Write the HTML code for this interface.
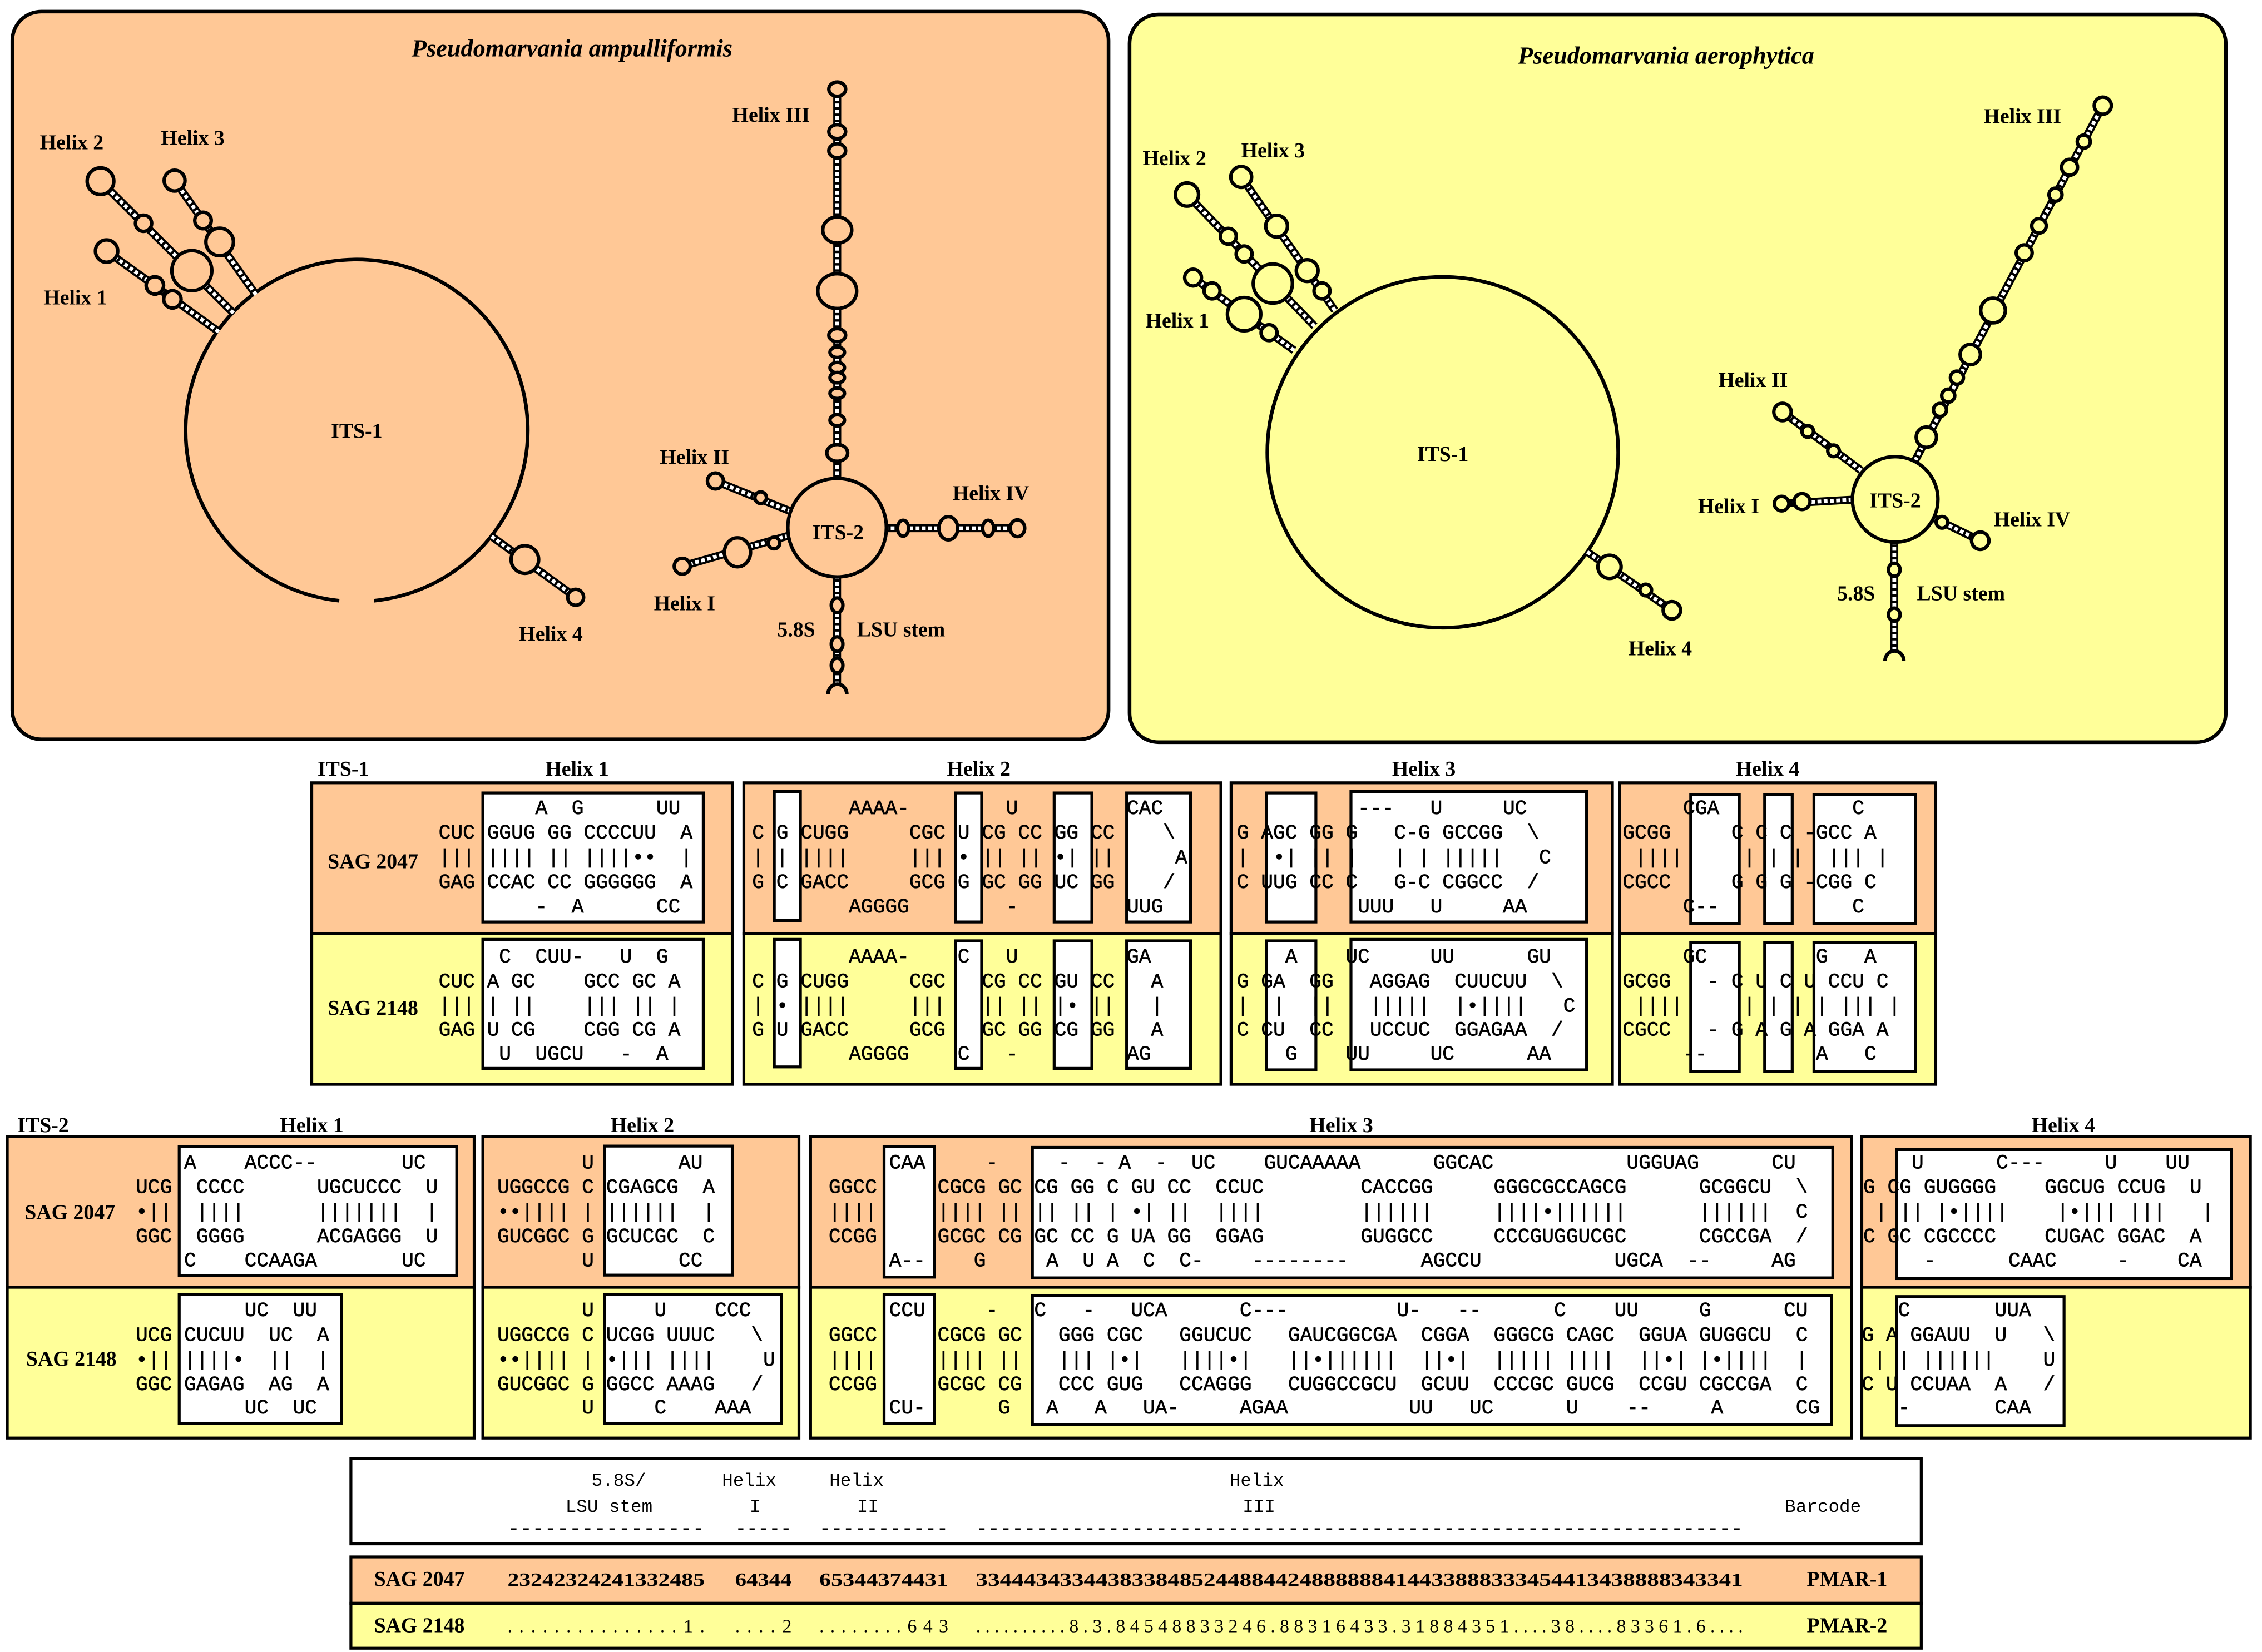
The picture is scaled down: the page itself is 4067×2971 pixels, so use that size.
<!DOCTYPE html>
<html><head><meta charset="utf-8">
<style>
html,body{margin:0;padding:0;background:#fff}
svg{display:block}
.m{font-family:"Liberation Mono",monospace;font-size:13.9px;white-space:pre;fill:#000;stroke:#000;stroke-width:0.25}
.h{font-family:"Liberation Mono",monospace;font-size:12.5px;white-space:pre;fill:#000}
.b{font-family:"Liberation Serif",serif;font-weight:bold;font-size:14.5px;fill:#000}
.t{font-family:"Liberation Serif",serif;font-weight:bold;font-style:italic;font-size:17px;fill:#000}
.hb{stroke:#000;stroke-width:5.5;fill:none}
.hw{stroke:#fff;stroke-width:2.6;stroke-dasharray:2.6 1.7;fill:none}
.lp circle,.lp ellipse{stroke:#000;stroke-width:2.4}
.p1 circle,.p1 ellipse{fill:#FFC896}
.p2 circle,.p2 ellipse{fill:#FFFF99}
.cell{stroke:#000;stroke-width:2}
.wb{fill:#fff;stroke:#000;stroke-width:2}
</style></head><body>
<svg width="4067" height="2971" viewBox="0 0 1560 1139.6" preserveAspectRatio="none" xmlns="http://www.w3.org/2000/svg">
<rect x="0" y="0" width="1560" height="1139.6" fill="#fff"/>

<!-- PANEL 1 -->
<rect x="8.5" y="8" width="756" height="502" rx="20" fill="#FFC896" stroke="#000" stroke-width="2.5"/>
<text class="t" x="394.5" y="39" text-anchor="middle">Pseudomarvania ampulliformis</text>
<path d="M234,414.4 A118,118 0 1 1 258,414.4" fill="none" stroke="#000" stroke-width="2.5"/>
<g class="lp p1">
<line class="hb" x1="150.9" y1="228.9" x2="73.5" y2="173.2"/><line class="hw" x1="150.9" y1="228.9" x2="73.5" y2="173.2"/>
<line class="hb" x1="161" y1="216" x2="69.3" y2="125"/><line class="hw" x1="161" y1="216" x2="69.3" y2="125"/>
<line class="hb" x1="176.5" y1="203.3" x2="120.4" y2="124.6"/><line class="hw" x1="176.5" y1="203.3" x2="120.4" y2="124.6"/>
<line class="hb" x1="339" y1="370" x2="397" y2="412"/><line class="hw" x1="339" y1="370" x2="397" y2="412"/>
<circle cx="73.5" cy="173.2" r="7.7"/><circle cx="106.8" cy="196.9" r="6"/><circle cx="118.9" cy="206.5" r="6"/>
<circle cx="69.3" cy="125" r="9.2"/><circle cx="99" cy="154" r="5.6"/><circle cx="132.3" cy="186.7" r="13.8"/>
<circle cx="120.4" cy="124.6" r="7.2"/><circle cx="140" cy="152.1" r="5.7"/><circle cx="151.5" cy="166.9" r="9.5"/>
<circle cx="362" cy="386" r="9.5"/><circle cx="397" cy="412" r="5.5"/>
<line class="hb" x1="577.4" y1="332" x2="577.4" y2="61.5"/><line class="hw" x1="577.4" y1="332" x2="577.4" y2="61.5"/>
<line class="hb" x1="610" y1="364.4" x2="701.7" y2="364.4"/><line class="hw" x1="610" y1="364.4" x2="701.7" y2="364.4"/>
<line class="hb" x1="545.7" y1="352.9" x2="493.4" y2="331.8"/><line class="hw" x1="545.7" y1="352.9" x2="493.4" y2="331.8"/>
<line class="hb" x1="543.9" y1="369.5" x2="470.5" y2="390.6"/><line class="hw" x1="543.9" y1="369.5" x2="470.5" y2="390.6"/>
<line class="hb" x1="577.3" y1="397" x2="577.3" y2="472"/><line class="hw" x1="577.3" y1="397" x2="577.3" y2="472"/>
<circle cx="577.3" cy="364" r="34"/>
<ellipse cx="577.4" cy="61.5" rx="5.8" ry="4.9"/><ellipse cx="577.4" cy="90.8" rx="5.8" ry="4.8"/><ellipse cx="577.4" cy="104" rx="5.8" ry="4.8"/>
<ellipse cx="577.4" cy="158.7" rx="10" ry="9"/><ellipse cx="577.4" cy="200.8" rx="13.4" ry="12"/>
<ellipse cx="577.4" cy="231.2" rx="5.8" ry="4.5"/><ellipse cx="577.4" cy="243" rx="5" ry="3.6"/><ellipse cx="577.4" cy="253.6" rx="5" ry="3.6"/>
<ellipse cx="577.4" cy="260.5" rx="5" ry="3.6"/><ellipse cx="577.4" cy="271.3" rx="5" ry="3.6"/><ellipse cx="577.4" cy="289.9" rx="5" ry="3.8"/>
<ellipse cx="577.4" cy="312.4" rx="7.2" ry="5.8"/>
<ellipse cx="622.8" cy="364.4" rx="3.8" ry="5.5"/><ellipse cx="654" cy="364.4" rx="6.5" ry="8"/><ellipse cx="681.5" cy="364.4" rx="3.8" ry="5.5"/><ellipse cx="701.7" cy="364.4" rx="5" ry="5.8"/>
<circle cx="524.6" cy="343.3" r="4"/><circle cx="493.4" cy="331.8" r="5.5"/>
<circle cx="533.8" cy="374.6" r="4"/><ellipse cx="508.6" cy="381" rx="9" ry="10"/><circle cx="470.5" cy="390.6" r="5.5"/>
<ellipse cx="577.3" cy="417.5" rx="4" ry="5"/><ellipse cx="577.3" cy="444.3" rx="4" ry="5"/><ellipse cx="577.3" cy="459" rx="4" ry="5"/>
</g>
<path d="M571,479 A6.5,7 0 0 1 584,479" fill="none" stroke="#000" stroke-width="2.5"/>
<text class="b" x="246" y="302" text-anchor="middle">ITS-1</text>
<text class="b" x="30" y="210">Helix 1</text>
<text class="b" x="27.5" y="103">Helix 2</text>
<text class="b" x="111" y="100">Helix 3</text>
<text class="b" x="358" y="442">Helix 4</text>
<text class="b" x="578" y="372" text-anchor="middle">ITS-2</text>
<text class="b" x="505" y="84">Helix III</text>
<text class="b" x="455" y="320">Helix II</text>
<text class="b" x="657" y="345">Helix IV</text>
<text class="b" x="451" y="421">Helix I</text>
<text class="b" x="536" y="439">5.8S</text>
<text class="b" x="591" y="439">LSU stem</text>

<!-- PANEL 2 -->
<rect x="779" y="10" width="756" height="502" rx="20" fill="#FFFF99" stroke="#000" stroke-width="2.5"/>
<text class="t" x="1149" y="44" text-anchor="middle">Pseudomarvania aerophytica</text>
<circle cx="995" cy="312" r="121" fill="none" stroke="#000" stroke-width="2.5"/>
<g class="lp p2">
<line class="hb" x1="892.5" y1="241.7" x2="822.8" y2="191.5"/><line class="hw" x1="892.5" y1="241.7" x2="822.8" y2="191.5"/>
<line class="hb" x1="906.6" y1="225" x2="818.6" y2="134.2"/><line class="hw" x1="906.6" y1="225" x2="818.6" y2="134.2"/>
<line class="hb" x1="920.6" y1="214.2" x2="856" y2="122.1"/><line class="hw" x1="920.6" y1="214.2" x2="856" y2="122.1"/>
<line class="hb" x1="1094.6" y1="380.7" x2="1153" y2="421"/><line class="hw" x1="1094.6" y1="380.7" x2="1153" y2="421"/>
<circle cx="875.2" cy="229.5" r="5.5"/><circle cx="858" cy="216.7" r="11.5"/><circle cx="835.9" cy="200.7" r="5.5"/><circle cx="822.8" cy="191.5" r="5.8"/>
<circle cx="877.8" cy="195.6" r="13.5"/><circle cx="858" cy="175.2" r="5.5"/><circle cx="847.1" cy="163" r="5.5"/><circle cx="818.6" cy="134.2" r="8"/>
<circle cx="911.7" cy="200.7" r="5.5"/><circle cx="901.5" cy="186.7" r="7.5"/><circle cx="880.4" cy="156" r="7.5"/><circle cx="856" cy="122.1" r="7.2"/>
<circle cx="1110" cy="391" r="8"/><circle cx="1135" cy="407" r="4"/><circle cx="1153" cy="421" r="6"/>
<line class="hb" x1="1320.7" y1="317.8" x2="1450.2" y2="72.9"/><line class="hw" x1="1320.7" y1="317.8" x2="1450.2" y2="72.9"/>
<line class="hb" x1="1283.5" y1="324.5" x2="1229.3" y2="284.2"/><line class="hw" x1="1283.5" y1="324.5" x2="1229.3" y2="284.2"/>
<line class="hb" x1="1277.5" y1="344.7" x2="1228.7" y2="347.4"/><line class="hw" x1="1277.5" y1="344.7" x2="1228.7" y2="347.4"/>
<line class="hb" x1="1332.4" y1="356.8" x2="1365.7" y2="373"/><line class="hw" x1="1332.4" y1="356.8" x2="1365.7" y2="373"/>
<line class="hb" x1="1306.4" y1="373" x2="1306.4" y2="449"/><line class="hw" x1="1306.4" y1="373" x2="1306.4" y2="449"/>
<circle cx="1307" cy="344.5" r="29.5"/>
<circle cx="1450.2" cy="72.9" r="5.9"/><circle cx="1437.1" cy="97.7" r="4.5"/><circle cx="1427.3" cy="115.4" r="5.5"/><circle cx="1417.6" cy="134.3" r="4.5"/>
<circle cx="1406.2" cy="155.8" r="5"/><circle cx="1396" cy="174.4" r="5.5"/><circle cx="1374.5" cy="214.2" r="8.5"/><circle cx="1358.8" cy="244.6" r="7"/>
<circle cx="1349.6" cy="260.5" r="4.5"/><circle cx="1343.6" cy="272.9" r="4.5"/><circle cx="1337.9" cy="282.8" r="4.5"/><circle cx="1328.5" cy="301.6" r="7"/>
<circle cx="1264.5" cy="311" r="4"/><circle cx="1246.7" cy="297.6" r="4"/><circle cx="1229.3" cy="284.2" r="6"/>
<circle cx="1242.8" cy="346" r="5.5"/><circle cx="1228.7" cy="347.4" r="5"/>
<circle cx="1339.3" cy="360.3" r="4"/><circle cx="1365.7" cy="373" r="6"/>
<ellipse cx="1306.4" cy="393" rx="4" ry="4.5"/><ellipse cx="1306.4" cy="424" rx="4" ry="4.5"/>
</g>
<path d="M1300,456 A6.5,7 0 0 1 1313,456" fill="none" stroke="#000" stroke-width="2.5"/>
<text class="b" x="995" y="318" text-anchor="middle">ITS-1</text>
<text class="b" x="790" y="226">Helix 1</text>
<text class="b" x="788" y="114">Helix 2</text>
<text class="b" x="856" y="108.5">Helix 3</text>
<text class="b" x="1123" y="452">Helix 4</text>
<text class="b" x="1307" y="350" text-anchor="middle">ITS-2</text>
<text class="b" x="1368" y="85">Helix III</text>
<text class="b" x="1185" y="267">Helix II</text>
<text class="b" x="1171" y="354">Helix I</text>
<text class="b" x="1375" y="363">Helix IV</text>
<text class="b" x="1267" y="414">5.8S</text>
<text class="b" x="1322" y="414">LSU stem</text>

<!-- ITS-1 TABLE -->
<text class="b" x="219" y="535" font-size="14">ITS-1</text>
<text class="b" x="398" y="535" text-anchor="middle">Helix 1</text>
<text class="b" x="675" y="535" text-anchor="middle">Helix 2</text>
<text class="b" x="982" y="535" text-anchor="middle">Helix 3</text>
<text class="b" x="1219" y="535" text-anchor="middle">Helix 4</text>

<rect class="cell" x="215" y="540" width="290" height="104" fill="#FFC896"/>
<rect class="cell" x="215" y="644" width="290" height="104" fill="#FFFF99"/>
<rect class="cell" x="513" y="540" width="329" height="104" fill="#FFC896"/>
<rect class="cell" x="513" y="644" width="329" height="104" fill="#FFFF99"/>
<rect class="cell" x="849" y="540" width="263" height="104" fill="#FFC896"/>
<rect class="cell" x="849" y="644" width="263" height="104" fill="#FFFF99"/>
<rect class="cell" x="1117" y="540" width="218" height="104" fill="#FFC896"/>
<rect class="cell" x="1117" y="644" width="218" height="104" fill="#FFFF99"/>

<text class="b" x="226" y="599" font-size="14">SAG 2047</text>
<text class="b" x="226" y="700" font-size="14">SAG 2148</text>

<rect class="wb" x="333" y="547" width="152" height="89"/>
<rect class="wb" x="333" y="648" width="152" height="89"/>
<text class="m" x="302.5" y="561.5">        A  G      UU</text>
<text class="m" x="302.5" y="578.5">CUC GGUG GG CCCCUU  A</text>
<text class="m" x="302.5" y="595.5">||| |||| || ||||••  |</text>
<text class="m" x="302.5" y="612.5">GAG CCAC CC GGGGGG  A</text>
<text class="m" x="302.5" y="629.5">        -  A      CC</text>
<text class="m" x="302.5" y="664">     C  CUU-   U  G</text>
<text class="m" x="302.5" y="681">CUC A GC    GCC GC A</text>
<text class="m" x="302.5" y="698">||| | ||    ||| || |</text>
<text class="m" x="302.5" y="714.5">GAG U CG    CGG CG A</text>
<text class="m" x="302.5" y="731">     U  UGCU   -  A</text>

<rect class="wb" x="534" y="546" width="18" height="89"/>
<rect class="wb" x="659" y="547" width="18" height="89"/>
<rect class="wb" x="727" y="547" width="26" height="89"/>
<rect class="wb" x="777" y="547" width="44" height="89"/>
<rect class="wb" x="534" y="648" width="18" height="88"/>
<rect class="wb" x="659" y="649" width="18" height="88"/>
<rect class="wb" x="727" y="649" width="26" height="88"/>
<rect class="wb" x="777" y="649" width="44" height="88"/>
<text class="m" x="518.7" y="561.5">        AAAA-        U         CAC</text>
<text class="m" x="518.7" y="578.5">C G CUGG     CGC U CG CC GG CC    \</text>
<text class="m" x="518.7" y="595.5">| | ||||     ||| • || || •| ||     A</text>
<text class="m" x="518.7" y="612.5">G C GACC     GCG G GC GG UC GG    /</text>
<text class="m" x="518.7" y="629.5">        AGGGG        -         UUG</text>
<text class="m" x="518.7" y="664">        AAAA-    C   U         GA</text>
<text class="m" x="518.7" y="681">C G CUGG     CGC   CG CC GU CC   A</text>
<text class="m" x="518.7" y="698">| • ||||     |||   || || |• ||   |</text>
<text class="m" x="518.7" y="714.5">G U GACC     GCG   GC GG CG GG   A</text>
<text class="m" x="518.7" y="731">        AGGGG    C   -         AG</text>

<rect class="wb" x="873.5" y="547" width="34" height="89"/>
<rect class="wb" x="931.7" y="546" width="162.5" height="90"/>
<rect class="wb" x="873.5" y="649" width="34" height="89"/>
<rect class="wb" x="931.7" y="648" width="162.5" height="90"/>
<text class="m" x="853" y="561.5">          ---   U     UC</text>
<text class="m" x="853" y="578.5">G AGC GG G   C-G GCCGG  \</text>
<text class="m" x="853" y="595.5">| |•| || |   | | |||||   C</text>
<text class="m" x="853" y="612.5">C UUG CC C   G-C CGGCC  /</text>
<text class="m" x="853" y="629.5">          UUU   U     AA</text>
<text class="m" x="853" y="664">    A    UC     UU      GU</text>
<text class="m" x="853" y="681">G GA  GG   AGGAG  CUUCUU  \</text>
<text class="m" x="853" y="698">| ||  ||   |||||  |•||||   C</text>
<text class="m" x="853" y="714.5">C CU  CC   UCCUC  GGAGAA  /</text>
<text class="m" x="853" y="731">    G    UU     UC      AA</text>

<rect class="wb" x="1166" y="548" width="33.5" height="89"/>
<rect class="wb" x="1217" y="548" width="19" height="89"/>
<rect class="wb" x="1251" y="548" width="70" height="89"/>
<rect class="wb" x="1166" y="650" width="33.5" height="89"/>
<rect class="wb" x="1217" y="650" width="19" height="89"/>
<rect class="wb" x="1251" y="650" width="70" height="89"/>
<text class="m" x="1119" y="561.5">     CGA           C</text>
<text class="m" x="1119" y="578.5">GCGG     C C C -GCC A</text>
<text class="m" x="1119" y="595.5"> ||||     | | |  ||| |</text>
<text class="m" x="1119" y="612.5">CGCC     G G G -CGG C</text>
<text class="m" x="1119" y="629.5">     C--           C</text>
<text class="m" x="1119" y="664">     GC         G   A</text>
<text class="m" x="1119" y="681">GCGG   - C U C U CCU C</text>
<text class="m" x="1119" y="698"> ||||     | | | | ||| |</text>
<text class="m" x="1119" y="714.5">CGCC   - G A G A GGA A</text>
<text class="m" x="1119" y="731">     --         A   C</text>

<!-- ITS-2 TABLE -->
<text class="b" x="12" y="781" font-size="14">ITS-2</text>
<text class="b" x="215" y="781" text-anchor="middle">Helix 1</text>
<text class="b" x="443" y="781" text-anchor="middle">Helix 2</text>
<text class="b" x="925" y="781" text-anchor="middle">Helix 3</text>
<text class="b" x="1423" y="781" text-anchor="middle">Helix 4</text>

<rect class="cell" x="5" y="784" width="322" height="104" fill="#FFC896"/>
<rect class="cell" x="5" y="888" width="322" height="104" fill="#FFFF99"/>
<rect class="cell" x="333" y="784" width="218" height="104" fill="#FFC896"/>
<rect class="cell" x="333" y="888" width="218" height="104" fill="#FFFF99"/>
<rect class="cell" x="559" y="784" width="718" height="104" fill="#FFC896"/>
<rect class="cell" x="559" y="888" width="718" height="104" fill="#FFFF99"/>
<rect class="cell" x="1284" y="784" width="268" height="104" fill="#FFC896"/>
<rect class="cell" x="1284" y="888" width="268" height="104" fill="#FFFF99"/>

<text class="b" x="17" y="841" font-size="14">SAG 2047</text>
<text class="b" x="18" y="942" font-size="14">SAG 2148</text>

<rect class="wb" x="123.6" y="791" width="191.4" height="89"/>
<rect class="wb" x="123.6" y="893" width="112" height="89"/>
<text class="m" x="93.6" y="806">    A    ACCC--       UC</text>
<text class="m" x="93.6" y="823">UCG  CCCC      UGCUCCC  U</text>
<text class="m" x="93.6" y="840">•||  ||||      |||||||  |</text>
<text class="m" x="93.6" y="857">GGC  GGGG      ACGAGGG  U</text>
<text class="m" x="93.6" y="873.5">    C    CCAAGA       UC</text>
<text class="m" x="93.6" y="908">         UC  UU</text>
<text class="m" x="93.6" y="925">UCG CUCUU  UC  A</text>
<text class="m" x="93.6" y="942">•|| ||||•  ||  |</text>
<text class="m" x="93.6" y="959">GGC GAGAG  AG  A</text>
<text class="m" x="93.6" y="975">         UC  UC</text>

<rect class="wb" x="417" y="790.6" width="88" height="89"/>
<rect class="wb" x="417" y="892.9" width="122" height="89"/>
<text class="m" x="342.9" y="806">       U       AU</text>
<text class="m" x="342.9" y="823">UGGCCG C CGAGCG  A</text>
<text class="m" x="342.9" y="840">••|||| | ||||||  |</text>
<text class="m" x="342.9" y="857">GUCGGC G GCUCGC  C</text>
<text class="m" x="342.9" y="873.5">       U       CC</text>
<text class="m" x="342.9" y="908">       U     U    CCC</text>
<text class="m" x="342.9" y="925">UGGCCG C UCGG UUUC   \</text>
<text class="m" x="342.9" y="942">••|||| | •||| ||||    U</text>
<text class="m" x="342.9" y="959">GUCGGC G GGCC AAAG   /</text>
<text class="m" x="342.9" y="975">       U     C    AAA</text>

<rect class="wb" x="609.7" y="791" width="34.8" height="90"/>
<rect class="wb" x="712" y="791.5" width="552" height="90"/>
<rect class="wb" x="609.7" y="893" width="34.8" height="89"/>
<rect class="wb" x="712" y="893.8" width="551" height="89"/>
<text class="m" x="571.5" y="806">     CAA     -     -  - A  -  UC    GUCAAAAA      GGCAC           UGGUAG      CU</text>
<text class="m" x="571.5" y="823">GGCC     CGCG GC CG GG C GU CC  CCUC        CACCGG     GGGCGCCAGCG      GCGGCU  \</text>
<text class="m" x="571.5" y="840">||||     |||| || || || | •| ||  ||||        ||||||     ||||•||||||      ||||||  C</text>
<text class="m" x="571.5" y="857">CCGG     GCGC CG GC CC G UA GG  GGAG        GUGGCC     CCCGUGGUCGC      CGCCGA  /</text>
<text class="m" x="571.5" y="873.5">     A--    G     A  U A  C  C-    --------      AGCCU           UGCA  --     AG</text>
<text class="m" x="571.5" y="908">     CCU     -   C   -   UCA      C---         U-   --      C    UU     G      CU</text>
<text class="m" x="571.5" y="925">GGCC     CGCG GC   GGG CGC   GGUCUC   GAUCGGCGA  CGGA  GGGCG CAGC  GGUA GUGGCU  C</text>
<text class="m" x="571.5" y="942">||||     |||| ||   ||| |•|   ||||•|   ||•||||||  ||•|  ||||| ||||  ||•| |•||||  |</text>
<text class="m" x="571.5" y="959">CCGG     GCGC CG   CCC GUG   CCAGGG   CUGGCCGCU  GCUU  CCCGC GUCG  CCGU CGCCGA  C</text>
<text class="m" x="571.5" y="975">     CU-      G   A   A   UA-     AGAA          UU   UC      U    --     A      CG</text>

<rect class="wb" x="1308" y="793" width="231" height="89"/>
<rect class="wb" x="1308" y="894.4" width="115.5" height="89"/>
<text class="m" x="1285" y="806">    U      C---     U    UU</text>
<text class="m" x="1285" y="823">G CG GUGGGG    GGCUG CCUG  U</text>
<text class="m" x="1285" y="840"> | || |•||||    |•||| |||   |</text>
<text class="m" x="1285" y="857">C GC CGCCCC    CUGAC GGAC  A</text>
<text class="m" x="1285" y="873.5">     -      CAAC     -    CA</text>
<text class="m" x="1284" y="908">   C       UUA</text>
<text class="m" x="1284" y="925">G A GGAUU  U   \</text>
<text class="m" x="1284" y="942"> | | ||||||    U</text>
<text class="m" x="1284" y="959">C U CCUAA  A   /</text>
<text class="m" x="1284" y="975">   -       CAA</text>

<!-- BARCODE -->
<rect x="242" y="1006" width="1083" height="59" fill="#fff" stroke="#000" stroke-width="2"/>
<text class="h" x="408" y="1025">5.8S/</text>
<text class="h" x="390" y="1043">LSU stem</text>
<text class="h" x="498" y="1025">Helix</text>
<text class="h" x="517" y="1043">I</text>
<text class="h" x="572" y="1025">Helix</text>
<text class="h" x="591" y="1043">II</text>
<text class="h" x="848" y="1025">Helix</text>
<text class="h" x="857" y="1043">III</text>
<text class="h" x="1231" y="1043">Barcode</text>
<text class="h" x="350" y="1058" textLength="136" lengthAdjust="spacingAndGlyphs">----------------</text>
<text class="h" x="507" y="1058" textLength="39" lengthAdjust="spacingAndGlyphs">-----</text>
<text class="h" x="565" y="1058" textLength="89" lengthAdjust="spacingAndGlyphs">-----------</text>
<text class="h" x="673" y="1058" textLength="529" lengthAdjust="spacingAndGlyphs">----------------------------------------------------------------</text>

<rect x="242" y="1074" width="1083" height="32" fill="#FFC896" stroke="#000" stroke-width="2"/>
<rect x="242" y="1106" width="1083" height="31" fill="#FFFF99" stroke="#000" stroke-width="2"/>
<text class="b" x="258" y="1094" font-size="14">SAG 2047</text>
<text class="b" x="258" y="1126" font-size="14">SAG 2148</text>
<text class="b" x="1246" y="1094" font-size="14">PMAR-1</text>
<text class="b" x="1246" y="1126" font-size="14">PMAR-2</text>
<g font-family="Liberation Serif, serif" font-size="13" font-weight="bold">
<text x="350" y="1094" textLength="136" lengthAdjust="spacingAndGlyphs">23242324241332485</text>
<text x="507" y="1094" textLength="39" lengthAdjust="spacingAndGlyphs">64344</text>
<text x="565" y="1094" textLength="89" lengthAdjust="spacingAndGlyphs">65344374431</text>
<text x="673" y="1094" textLength="529" lengthAdjust="spacingAndGlyphs">3344434334438338485244884424888888414433888333454413438888343341</text>
</g>
<g font-family="Liberation Serif, serif" font-size="13">
<text x="350" y="1126" textLength="136" lengthAdjust="spacing">...............1.</text>
<text x="507" y="1126" textLength="39" lengthAdjust="spacing">....2</text>
<text x="565" y="1126" textLength="89" lengthAdjust="spacing">........643</text>
<text x="673" y="1126" textLength="529" lengthAdjust="spacing">..........8.3.84548833246.88316433.31884351....38....83361.6....</text>
</g>
</svg>
</body></html>
